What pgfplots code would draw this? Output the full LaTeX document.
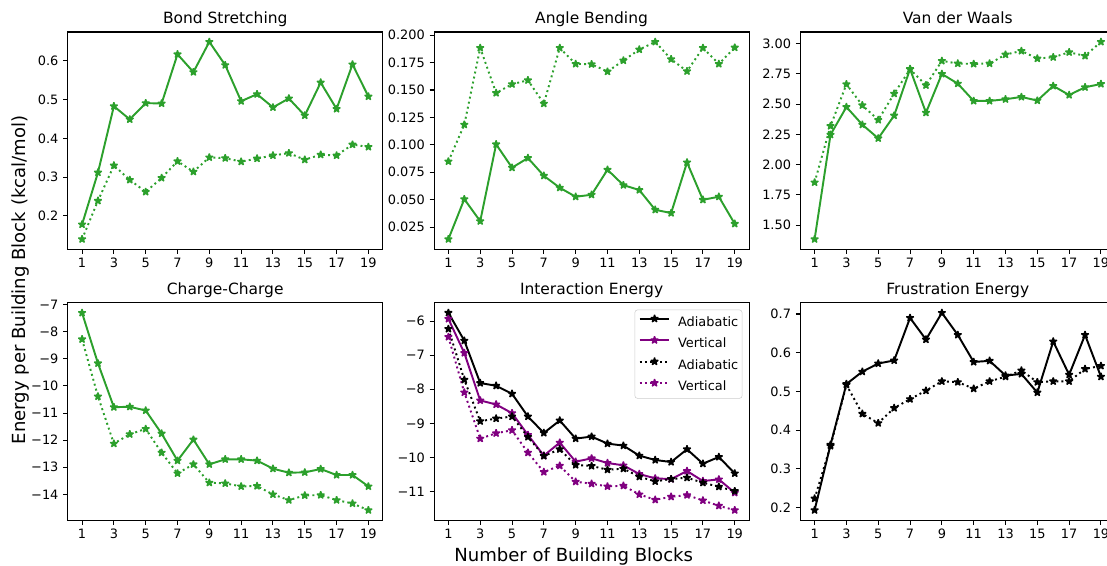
\documentclass[border=0pt]{standalone}
\usepackage{pgfplots}
\usepackage{pgfplotstable}
\pgfplotsset{compat=1.18}
\usepackage{fontspec}
\setmainfont{DejaVu Sans}

\definecolor{tabgreen}{HTML}{2CA02C}
\definecolor{mplpurple}{HTML}{800080}

% filled five-point star, like matplotlib's '*'
\pgfdeclareplotmark{fstar}{%
  \pgfpathmoveto{\pgfpointpolar{90}{\pgfplotmarksize}}%
  \pgfpathlineto{\pgfpointpolar{126}{0.382\pgfplotmarksize}}%
  \pgfpathlineto{\pgfpointpolar{162}{\pgfplotmarksize}}%
  \pgfpathlineto{\pgfpointpolar{198}{0.382\pgfplotmarksize}}%
  \pgfpathlineto{\pgfpointpolar{234}{\pgfplotmarksize}}%
  \pgfpathlineto{\pgfpointpolar{270}{0.382\pgfplotmarksize}}%
  \pgfpathlineto{\pgfpointpolar{306}{\pgfplotmarksize}}%
  \pgfpathlineto{\pgfpointpolar{342}{0.382\pgfplotmarksize}}%
  \pgfpathlineto{\pgfpointpolar{18}{\pgfplotmarksize}}%
  \pgfpathlineto{\pgfpointpolar{54}{0.382\pgfplotmarksize}}%
  \pgfpathclose
  \pgfusepathqfillstroke}

\pgfplotstableread{
n  solid  dotted
1  0.178  0.140
2  0.312  0.239
3  0.483  0.330
4  0.449  0.293
5  0.491  0.262
6  0.490  0.298
7  0.617  0.341
8  0.571  0.314
9  0.649  0.351
10 0.589  0.349
11 0.496  0.340
12 0.514  0.348
13 0.480  0.356
14 0.503  0.362
15 0.459  0.345
16 0.544  0.358
17 0.476  0.356
18 0.591  0.384
19 0.508  0.378
}\bond

\pgfplotstableread{
n  solid   dotted
1  0.0140  0.0849
2  0.0505  0.1184
3  0.0304  0.1884
4  0.1005  0.1473
5  0.0792  0.1553
6  0.0880  0.1589
7  0.0718  0.1376
8  0.0609  0.1884
9  0.0527  0.1738
10 0.0545  0.1735
11 0.0773  0.1668
12 0.0633  0.1769
13 0.0588  0.1869
14 0.0408  0.1939
15 0.0378  0.1781
16 0.0840  0.1671
17 0.0499  0.1884
18 0.0527  0.1738
19 0.0280  0.1887
}\angle

\pgfplotstableread{
n  solid  dotted
1  1.384  1.853
2  2.247  2.319
3  2.476  2.664
4  2.330  2.490
5  2.217  2.369
6  2.405  2.586
7  2.790  2.788
8  2.429  2.655
9  2.749  2.857
10 2.669  2.835
11 2.526  2.832
12 2.526  2.835
13 2.540  2.909
14 2.559  2.939
15 2.529  2.876
16 2.650  2.887
17 2.575  2.928
18 2.639  2.898
19 2.666  3.014
}\vdw

\pgfplotstableread{
n  solid    dotted
1  -7.308   -8.282
2  -9.169   -10.389
3  -10.784  -12.127
4  -10.771  -11.782
5  -10.907  -11.585
6  -11.757  -12.460
7  -12.755  -13.224
8  -11.979  -12.891
9  -12.891  -13.569
10 -12.706  -13.594
11 -12.706  -13.704
12 -12.755  -13.692
13 -13.051  -14.000
14 -13.199  -14.210
15 -13.187  -14.037
16 -13.064  -14.025
17 -13.285  -14.210
18 -13.285  -14.333
19 -13.704  -14.580
}\charge

\pgfplotstableread{
n  adia     vert     adiadot  vertdot
1  -5.754   -5.931   -6.226   -6.462
2  -6.570   -6.933   -7.719   -8.092
3  -7.817   -8.328   -8.937   -9.448
4  -7.896   -8.446   -8.859   -9.291
5  -8.132   -8.701   -8.800   -9.202
6  -8.800   -9.340   -9.399   -9.861
7  -9.282   -9.949   -9.959   -10.430
8  -8.917   -9.566   -9.762   -10.244
9  -9.448   -10.126  -10.224  -10.715
10 -9.389   -10.028  -10.253  -10.774
11 -9.595   -10.165  -10.361  -10.853
12 -9.654   -10.234  -10.332  -10.833
13 -9.949   -10.489  -10.568  -11.088
14 -10.077  -10.617  -10.705  -11.246
15 -10.136  -10.637  -10.637  -11.157
16 -9.762   -10.401  -10.597  -11.108
17 -10.185  -10.695  -10.745  -11.265
18 -9.988   -10.646  -10.862  -11.422
19 -10.470  -11.039  -10.990  -11.550
}\inter

\pgfplotstableread{
n  solid  dotted
1  0.193  0.223
2  0.362  0.359
3  0.519  0.517
4  0.551  0.442
5  0.572  0.418
6  0.580  0.457
7  0.690  0.480
8  0.634  0.502
9  0.703  0.526
10 0.646  0.524
11 0.576  0.507
12 0.579  0.526
13 0.541  0.538
14 0.545  0.554
15 0.497  0.524
16 0.629  0.526
17 0.543  0.526
18 0.646  0.558
19 0.538  0.566
}\frust

\pgfplotsset{
  panel/.style={
    scale only axis,
    width=244.1pt, height=168.2pt,
    anchor=south west,
    xmin=0.1, xmax=19.9,
    enlarge y limits=0.05,
    xtick={1,3,...,19},
    xticklabels={1,3,5,7,9,11,13,15,17,19},
    tick align=outside,
    xtick pos=left, ytick pos=left,
    major tick length=3.5pt,
    every tick/.style={black, line width=0.8pt},
    axis line style={line width=0.8pt},
    tick label style={font=\fontsize{10}{12}\selectfont, inner sep=0pt},
    xticklabel style={yshift=-3.5pt},
    yticklabel style={xshift=-3.5pt},
    title style={font=\fontsize{12}{14}\selectfont, at={(0.5,1)}, anchor=base, yshift=0.5pt, inner sep=0pt},
    every axis plot/.append style={line width=1.5pt, mark=fstar, mark size=3pt,
      mark options={solid, line width=1pt, line join=bevel}},
  },
  dotline/.style={dash pattern=on 1.5pt off 2.475pt},
}

\begin{document}
\begin{tikzpicture}
\path[use as bounding box] (0,0) rectangle (857.9pt,-437.9pt);
\clip (0,0) rectangle (857.9pt,-437.9pt);

% top row
\begin{axis}[panel, at={(52.5pt,-193pt)}, title={Bond Stretching},
  ytick={0.2,0.3,0.4,0.5,0.6}, yticklabels={0.2,0.3,0.4,0.5,0.6}]
\addplot[tabgreen] table[x=n, y=solid] {\bond};
\addplot[tabgreen, dotline] table[x=n, y=dotted] {\bond};
\end{axis}

\begin{axis}[panel, at={(336.4pt,-193pt)}, title={Angle Bending},
  ytick={0.025,0.05,0.075,0.1,0.125,0.15,0.175,0.2},
  yticklabels={0.025,0.050,0.075,0.100,0.125,0.150,0.175,0.200}]
\addplot[tabgreen] table[x=n, y=solid] {\angle};
\addplot[tabgreen, dotline] table[x=n, y=dotted] {\angle};
\end{axis}

\begin{axis}[panel, at={(620.2pt,-193pt)}, title={Van der Waals},
  ytick={1.5,1.75,2,2.25,2.5,2.75,3},
  yticklabels={1.50,1.75,2.00,2.25,2.50,2.75,3.00}]
\addplot[tabgreen] table[x=n, y=solid] {\vdw};
\addplot[tabgreen, dotline] table[x=n, y=dotted] {\vdw};
\end{axis}

% bottom row
\begin{axis}[panel, at={(52.5pt,-403pt)}, title={Charge-Charge},
  ytick={-14,-13,-12,-11,-10,-9,-8,-7},
  yticklabels={−14,−13,−12,−11,−10,−9,−8,−7}]
\addplot[tabgreen] table[x=n, y=solid] {\charge};
\addplot[tabgreen, dotline] table[x=n, y=dotted] {\charge};
\end{axis}

\begin{axis}[panel, at={(336.4pt,-403pt)}, title={Interaction Energy},
  ytick={-11,-10,-9,-8,-7,-6},
  yticklabels={−11,−10,−9,−8,−7,−6},
  legend style={at={(1,1)}, anchor=north east, xshift=-5.2pt, yshift=-5.2pt,
    draw=black!20, rounded corners=2pt, fill=white,
    font=\fontsize{10}{12}\selectfont,
    inner xsep=3pt, inner ysep=3.8pt, row sep=5.5pt, column sep=6pt,
    nodes={inner sep=0pt, text height=7.5pt, text depth=2.1pt}},
  legend cell align=left,
  legend image code/.code={\draw[mark repeat=2, mark phase=2]
    plot coordinates {(0pt,3.3pt) (11.5pt,3.3pt) (23pt,3.3pt)};}]
\addplot[black] table[x=n, y=adia] {\inter};
\addlegendentry{Adiabatic}
\addplot[mplpurple] table[x=n, y=vert] {\inter};
\addlegendentry{Vertical}
\addplot[black, dotline] table[x=n, y=adiadot] {\inter};
\addlegendentry{Adiabatic}
\addplot[mplpurple, dotline] table[x=n, y=vertdot] {\inter};
\addlegendentry{Vertical}
\end{axis}

\begin{axis}[panel, at={(620.2pt,-403pt)}, title={Frustration Energy},
  ytick={0.2,0.3,0.4,0.5,0.6,0.7}, yticklabels={0.2,0.3,0.4,0.5,0.6,0.7}]
\addplot[black] table[x=n, y=solid] {\frust};
\addplot[black, dotline] table[x=n, y=dotted] {\frust};
\end{axis}

\node[font=\fontsize{14}{16}\selectfont, anchor=base] at (444.6pt,-434.8pt) {Number of Building Blocks};
\node[font=\fontsize{14}{16}\selectfont, anchor=base, rotate=90] at (19.4pt,-217pt) {Energy per Building Block (kcal/mol)};
\end{tikzpicture}
\end{document}
